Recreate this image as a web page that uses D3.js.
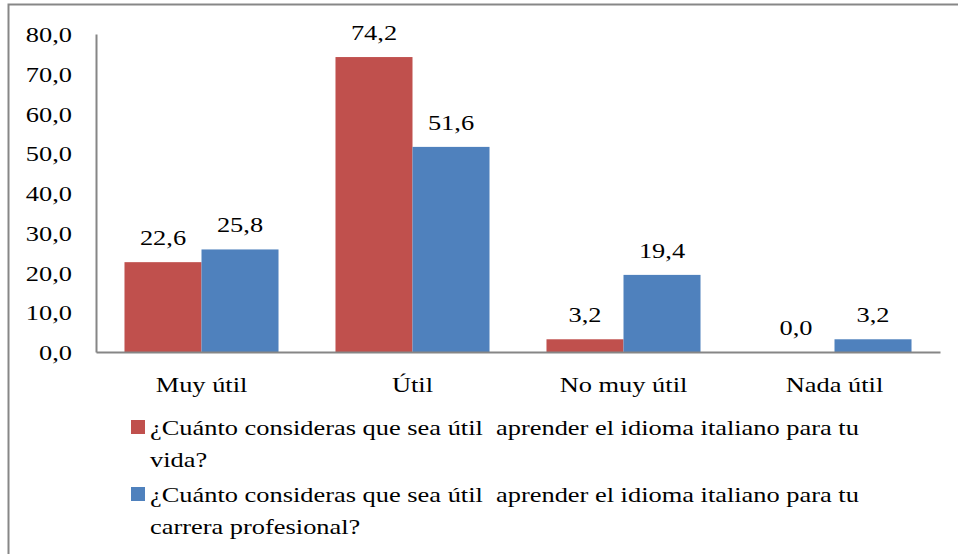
<!DOCTYPE html>
<html>
<head>
<meta charset="utf-8">
<script src="https://cdn.jsdelivr.net/npm/d3@7"></script>
<style>
  body { margin: 0; background: #fff; }
</style>
</head>
<body>
<div id="chart"></div>
<script>
// chart data
var categories = ["Muy útil", "Útil", "No muy útil", "Nada útil"];
var seriesNames = ["vida", "carrera"];
var vidaValues = [22.6, 74.2, 3.2, 0.0];
var carreraValues = [25.8, 51.6, 19.4, 3.2];
var yTicks = [0, 10, 20, 30, 40, 50, 60, 70, 80];
var legendLines = [
  ["¿Cuánto consideras que sea útil  aprender el idioma italiano para tu", "vida?"],
  ["¿Cuánto consideras que sea útil  aprender el idioma italiano para tu", "carrera profesional?"]
];
var colors = ["#C0504D", "#4F81BD"];

var svgWidth = 958;
var svgHeight = 554;
var fontFamily = "Liberation Serif";
var stretchX = 1.2; // the original picture is a bit wider than tall

var margin = { top: 34, right: 18, bottom: 202, left: 96 };
var width = svgWidth - margin.left - margin.right;
var height = svgHeight - margin.top - margin.bottom;

// widen text glyphs like the original
function stretch(sel) {
  sel.each(function() {
    var w = this.getComputedTextLength();
    d3.select(this)
      .attr("textLength", w * stretchX)
      .attr("lengthAdjust", "spacingAndGlyphs");
  });
}

function fmt(v) {
  return d3.format(".1f")(v).replace(".", ",");
}

var svg = d3.select("#chart")
  .append("svg")
  .attr("width", svgWidth)
  .attr("height", svgHeight)
  .attr("font-family", fontFamily);

// outer frame (cropped on the right and bottom in the original)
svg.append("rect")
  .attr("x", 8.5)
  .attr("y", 4.5)
  .attr("width", svgWidth + 20)
  .attr("height", svgHeight + 20)
  .attr("fill", "none")
  .attr("stroke", "#878787")
  .attr("stroke-width", 2);

var g = svg.append("g")
  .attr("transform", `translate(${margin.left}, ${margin.top})`);

var x0 = d3.scaleBand()
  .domain(categories)
  .range([0, width])
  .paddingInner(0.27)
  .paddingOuter(0.135);

var x1 = d3.scaleBand()
  .domain(seriesNames)
  .range([0, x0.bandwidth()]);

var y = d3.scaleLinear()
  .domain([0, 80])
  .range([height, 0]);

var data = categories.map(function(c, i) {
  return { cat: c, values: [
    { key: "vida", value: vidaValues[i] },
    { key: "carrera", value: carreraValues[i] }
  ]};
});

// y axis
var leftAxis = d3.axisLeft(y)
  .tickValues(yTicks)
  .tickSize(0)
  .tickPadding(24)
  .tickFormat(fmt);

var yAxis = g.append("g").call(leftAxis).attr("font-family", fontFamily);
yAxis.select(".domain").attr("stroke", "#868686").attr("stroke-width", 2);
yAxis.selectAll("text")
  .attr("font-family", fontFamily)
  .attr("font-size", 22)
  .attr("fill", "#000")
  .attr("dy", "0.35em")
  .call(stretch);

// bars
var groups = g.selectAll(".cat")
  .data(data)
  .enter()
  .append("g")
  .attr("class", "cat")
  .attr("transform", d => `translate(${x0(d.cat)}, 0)`);

groups.selectAll("rect")
  .data(d => d.values)
  .enter()
  .append("rect")
  .attr("x", d => x1(d.key))
  .attr("y", d => y(d.value))
  .attr("width", x1.bandwidth())
  .attr("height", d => height - y(d.value))
  .attr("fill", (d, i) => colors[i]);

groups.selectAll("text.val")
  .data(d => d.values)
  .enter()
  .append("text")
  .attr("class", "val")
  .attr("x", d => x1(d.key) + x1.bandwidth() / 2)
  .attr("y", d => y(d.value) - 17)
  .attr("text-anchor", "middle")
  .attr("font-family", fontFamily)
  .attr("font-size", 22)
  .text(d => fmt(d.value))
  .call(stretch);

// x axis
var bottomAxis = d3.axisBottom(x0).tickSize(0).tickPadding(24);
var xAxis = g.append("g")
  .attr("transform", `translate(0, ${height})`)
  .call(bottomAxis)
  .attr("font-family", fontFamily);
xAxis.select(".domain").attr("stroke", "#868686").attr("stroke-width", 2);
xAxis.selectAll("text")
  .attr("font-family", fontFamily)
  .attr("font-size", 22)
  .attr("fill", "#000")
  .attr("dy", "0.71em")
  .call(stretch);

// legend
var legend = svg.append("g");
legendLines.forEach(function(lines, i) {
  var top = 420 + i * 67;
  legend.append("rect")
    .attr("x", 131)
    .attr("y", top)
    .attr("width", 14)
    .attr("height", 14)
    .attr("fill", colors[i]);
  var t = legend.append("text")
    .attr("x", 150)
    .attr("y", top + 15)
    .attr("font-family", fontFamily)
    .attr("font-size", 22)
    .style("white-space", "pre");
  lines.forEach(function(line, j) {
    t.append("tspan")
      .attr("x", 150)
      .attr("dy", j === 0 ? 0 : 31.5)
      .text(line)
      .call(stretch);
  });
});
</script>
</body>
</html>
